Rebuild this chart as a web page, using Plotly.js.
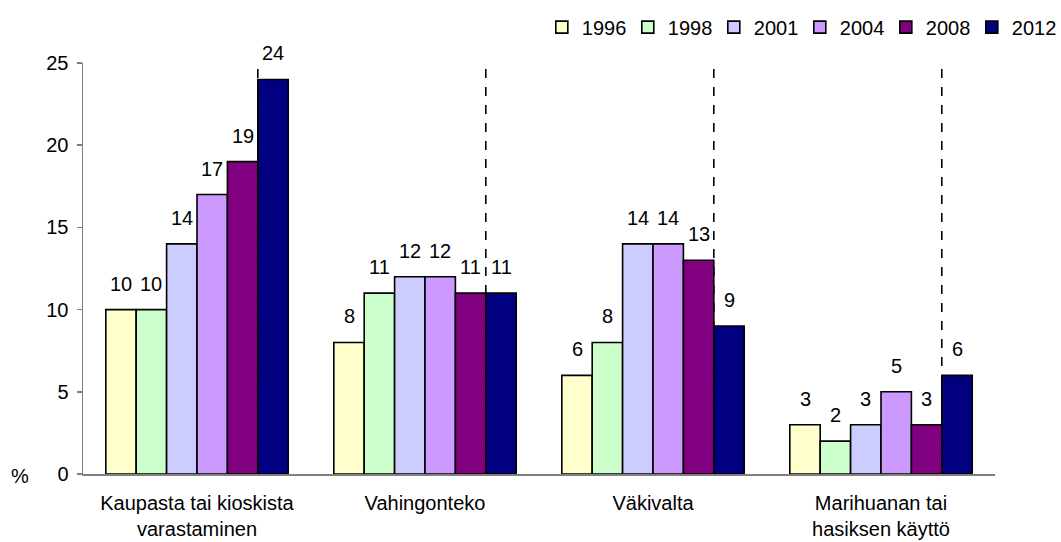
<!DOCTYPE html>
<html>
<head>
<meta charset="utf-8">
<script src="https://cdn.plot.ly/plotly-3.0.1.min.js"></script>
<style>html,body{margin:0;padding:0;background:#fff;}#chart{width:1061px;height:542px;}</style>
</head>
<body>
<div id="chart"></div>
<script>
const categories = ["Kaupasta tai kioskista<br>varastaminen", "Vahingonteko", "Väkivalta", "Marihuanan tai<br>hasiksen käyttö"];
const years = ["1996", "1998", "2001", "2004", "2008", "2012"];
const v1996 = [10, 8, 6, 3];
const v1998 = [10, 11, 8, 2];
const v2001 = [14, 12, 14, 3];
const v2004 = [17, 12, 14, 5];
const v2008 = [19, 11, 13, 3];
const v2012 = [24, 11, 9, 6];
const seriesValues = [v1996, v1998, v2001, v2004, v2008, v2012];
const colors = ["#FFFFCC", "#CCFFCC", "#CCCCFF", "#CC99FF", "#800080", "#000080"];

const FONT = "Liberation Sans, Arial, sans-serif";
const FS = 20;
const traces = years.map((y, k) => ({
  type: "bar",
  name: y,
  x: categories,
  y: seriesValues[k],
  marker: {color: colors[k], line: {color: "#000", width: 1.6}},
  hoverinfo: "skip"
}));

const bargap = 0.2;
const nSeries = years.length;
const barW = (1 - bargap) / nSeries;
// dashed line between 2008 and 2012 bars in each group
const shapes = categories.map((c, i) => {
  const xp = i - (1 - bargap) / 2 + (nSeries - 1) * barW;
  return {type: "line", xref: "x", yref: "y", x0: xp, x1: xp, y0: 0, y1: 25,
          line: {color: "#000", width: 1.6, dash: "dash"}, layer: "above"};
});

// value labels above each bar
const annotations = [];
seriesValues.forEach((vals, k) => {
  vals.forEach((v, i) => {
    annotations.push({
      text: String(v), xref: "x", yref: "y",
      x: i - (1 - bargap) / 2 + (k + 0.5) * barW, y: v,
      yanchor: "bottom", xanchor: "center", yshift: 13, showarrow: false,
      font: {family: FONT, size: FS, color: "#000"}
    });
  });
});
annotations.push({text: "%", xref: "paper", yref: "y", x: -0.069, y: 0, yshift: -2,
                  showarrow: false, xanchor: "center", yanchor: "middle",
                  font: {family: FONT, size: FS, color: "#000"}});

const layout = {
  width: 1061, height: 542,
  margin: {l: 82.5, r: 65.5, t: 63, b: 68},
  paper_bgcolor: "#fff", plot_bgcolor: "#fff",
  font: {family: FONT, size: FS, color: "#000"},
  barmode: "group", bargap: bargap, bargroupgap: 0,
  showlegend: true,
  legend: {orientation: "h", xref: "container", yref: "container",
           x: 0.997, xanchor: "right", y: 0.950, yanchor: "middle",
           font: {family: FONT, size: FS, color: "#000"}, traceorder: "normal",
           bgcolor: "rgba(0,0,0,0)", itemwidth: 30, entrywidth: 41, entrywidthmode: "pixels"},
  xaxis: {type: "category", showline: true, linecolor: "#808080", linewidth: 1.5,
          ticks: "", showgrid: false, zeroline: false, ticklabelstandoff: 10,
          tickfont: {family: FONT, size: FS, color: "#000"}, range: [-0.5, 3.5], fixedrange: true},
  yaxis: {range: [0, 25], dtick: 5, tick0: 0, showline: true, linecolor: "#808080", linewidth: 1.5,
          ticks: "outside", ticklen: 5, tickcolor: "#808080", tickwidth: 1.5, showgrid: false, zeroline: false,
          tickfont: {family: FONT, size: FS, color: "#000"}, ticklabelstandoff: 4, fixedrange: true},
  shapes: shapes,
  annotations: annotations
};

Plotly.newPlot("chart", traces, layout, {displayModeBar: false, staticPlot: true});
</script>
</body>
</html>
